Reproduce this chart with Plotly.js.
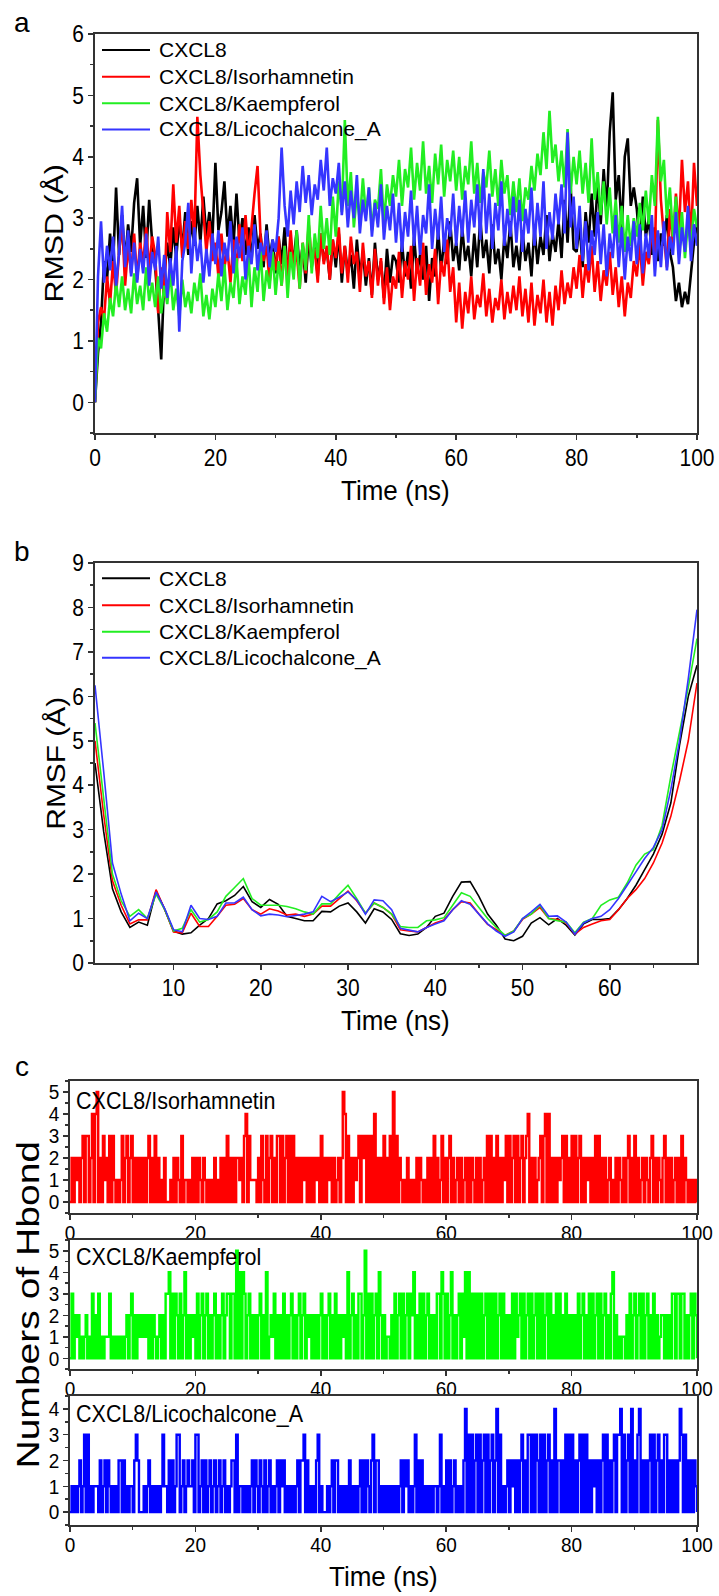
<!DOCTYPE html>
<html><head><meta charset="utf-8">
<script src="https://cdn.plot.ly/plotly-3.0.1.min.js"></script>
<style>html,body{margin:0;padding:0;background:#fff}#chart{width:719px;height:1596px}</style>
</head><body><div id="chart"></div>
<script>
// ---------------- DATA ----------------
const seriesNames = ['CXCL8', 'CXCL8/Isorhamnetin', 'CXCL8/Kaempferol', 'CXCL8/Licochalcone_A'];
const hbondNames = ['CXCL8/Isorhamnetin', 'CXCL8/Kaempferol', 'CXCL8/Licochalcone_A'];
const panelLabels = ['a', 'b', 'c'];
const xTitle = 'Time (ns)';
const rmsdTitle = 'RMSD (Å)';
const rmsfTitle = 'RMSF (Å)';
const hbondTitle = 'Numbers of Hbond';
const rmsfTicks = [10, 20, 30, 40, 50, 60];
const rmsfMinorTicks = [5, 15, 25, 35, 45, 55, 65];

// RMSD (Å), one value every 0.5 ns from 0 to 100 ns
const rmsdStep = 0.5;
const rmsdCXCL8 = [
  0.00,0.80,1.30,2.30,2.00,2.75,2.20,3.50,2.40,3.05,2.30,2.90,2.45,3.25,3.65,2.55,3.20,2.35,3.30,2.60,
  2.20,1.50,0.70,2.05,2.60,2.20,2.85,2.35,3.00,2.50,3.10,2.40,2.95,2.55,3.20,2.60,3.35,2.70,3.10,2.65,
  3.90,2.80,3.10,3.60,2.70,3.20,2.55,3.40,2.60,3.00,2.40,2.85,2.30,3.05,2.50,2.75,2.20,2.90,2.35,2.65,
  2.10,2.70,2.25,2.85,2.05,2.60,2.30,2.80,2.15,2.55,1.95,2.70,2.20,2.60,2.05,2.75,2.30,2.50,2.00,2.65,
  2.20,2.75,1.95,2.55,2.10,2.40,1.85,2.65,2.05,2.45,1.90,2.35,1.75,2.60,2.00,2.30,1.70,2.50,1.95,2.40,
  2.30,1.95,2.60,2.05,2.45,1.85,2.70,2.10,2.40,2.00,2.55,1.65,2.35,2.05,2.80,2.15,2.65,2.25,2.95,2.30,
  2.60,2.15,2.85,2.30,2.55,2.05,2.75,2.20,3.00,2.35,2.65,2.10,2.90,2.25,2.50,2.00,2.70,2.35,2.95,2.20,
  2.55,2.15,2.80,2.30,2.60,2.05,2.85,2.25,2.70,2.40,3.05,2.30,2.75,2.45,2.95,2.35,3.30,2.60,3.55,2.50,
  2.45,2.90,2.20,3.10,2.60,3.40,2.70,3.60,2.90,3.80,3.10,4.40,5.05,3.30,3.70,2.80,4.00,4.30,3.20,3.50,
  3.15,2.55,3.35,2.70,3.00,2.40,2.85,2.30,2.75,2.55,3.05,2.45,2.20,1.65,1.95,1.55,1.80,1.60,2.10,2.60,
  2.90
];
const rmsdIsorhamnetin = [
  0.00,1.30,1.55,1.35,2.05,1.60,2.30,1.75,2.45,2.95,1.90,2.55,2.10,2.75,2.00,2.60,2.25,2.85,2.15,2.70,
  2.40,1.45,2.20,1.70,3.10,2.45,3.55,2.60,3.20,2.35,2.95,2.50,3.30,2.70,4.65,3.70,3.10,2.45,2.95,2.30,
  2.60,2.05,2.75,2.20,2.50,1.95,2.65,2.15,2.90,2.30,3.05,2.40,2.85,3.40,3.85,2.70,2.30,2.55,1.95,2.45,
  2.15,2.70,1.90,2.55,2.05,2.80,2.20,2.45,1.85,2.60,2.10,2.90,2.30,2.50,1.95,2.75,2.25,2.55,2.00,2.65,
  2.35,2.85,2.10,2.55,1.95,2.70,2.25,2.45,1.80,2.60,2.05,2.30,1.70,2.50,1.90,2.35,1.60,2.20,1.50,2.05,
  1.85,2.45,1.70,2.30,2.00,2.55,1.65,2.35,1.90,2.60,1.75,2.25,1.95,2.50,1.60,2.30,2.05,2.65,1.80,2.20,
  1.30,1.95,1.20,1.80,1.45,2.05,1.35,1.75,1.55,2.10,1.40,1.85,1.30,1.70,1.50,2.00,1.35,1.80,1.45,1.90,
  1.50,2.05,1.40,1.85,1.30,1.95,1.25,1.75,1.45,2.00,1.30,1.80,1.25,1.90,1.50,2.15,1.60,1.95,1.70,2.20,
  1.85,2.40,1.70,2.25,1.95,2.55,1.80,2.30,1.65,2.15,1.90,2.45,1.75,2.20,1.55,2.05,1.40,1.95,1.70,2.30,
  2.05,2.60,1.90,2.45,2.25,2.85,2.40,4.60,3.30,2.70,2.20,3.15,2.55,3.40,2.75,3.95,3.10,3.60,2.60,3.90,
  3.20
];
const rmsdKaempferol = [
  0.00,1.05,0.88,1.45,1.15,1.70,1.40,1.95,1.55,2.05,1.50,1.85,1.45,2.10,1.60,1.90,1.50,2.20,1.65,1.95,
  1.55,2.05,1.45,1.90,1.60,2.15,1.50,1.85,1.40,2.00,1.55,1.80,1.45,1.95,1.65,2.10,1.40,1.75,1.35,1.85,
  1.55,2.10,1.65,2.25,1.50,1.95,1.70,2.35,1.60,2.05,1.75,2.40,1.55,2.20,1.80,2.50,1.65,2.15,1.85,2.45,
  1.75,2.30,1.90,2.55,1.70,2.45,2.00,2.80,1.85,2.60,2.15,3.05,2.10,2.75,2.35,3.20,2.50,3.00,2.40,3.35,
  2.70,3.60,3.10,4.60,3.20,3.75,2.85,3.40,2.95,3.65,3.05,3.50,2.80,3.30,3.15,3.80,2.90,3.55,3.20,3.70,
  3.35,3.95,3.20,3.80,3.50,4.15,3.30,3.90,3.45,4.25,3.40,3.85,3.25,4.05,3.55,4.20,3.35,3.95,3.60,4.10,
  3.45,4.00,3.30,3.85,3.55,4.25,3.40,3.90,3.25,3.75,3.50,4.10,3.35,3.80,3.20,3.95,3.40,3.70,3.05,3.60,
  3.10,3.65,2.95,3.50,3.30,3.85,3.45,4.05,3.70,4.40,3.80,4.75,3.90,4.20,3.60,4.10,3.50,4.45,3.40,4.00,
  3.55,4.10,3.40,3.90,3.25,4.30,3.30,3.75,3.05,3.60,2.90,3.50,2.75,3.30,2.60,3.20,2.45,3.05,2.55,3.00,
  2.70,3.25,2.80,3.45,2.90,3.70,3.20,4.65,3.60,3.95,3.00,3.50,2.70,3.35,2.55,3.10,2.35,2.95,2.50,3.15,
  2.85
];
const rmsdLicochalconeA = [
  0.00,2.05,2.95,1.95,2.55,2.15,2.70,1.90,2.45,3.20,2.20,2.80,2.05,2.60,1.95,2.50,2.10,2.75,1.90,2.45,
  2.15,2.70,1.85,2.40,1.70,2.35,1.90,2.55,1.15,2.30,2.60,3.25,2.10,2.85,2.30,2.65,1.95,2.50,2.05,2.75,
  2.25,2.80,2.05,2.60,2.30,2.95,2.10,2.70,2.35,2.85,2.00,2.55,2.25,2.90,2.15,2.60,2.40,2.80,2.20,2.65,
  2.45,3.00,4.15,3.20,2.70,3.45,2.90,3.60,3.10,3.85,3.25,3.70,3.05,3.55,3.30,3.95,3.45,4.15,3.20,3.65,
  3.40,3.90,3.05,3.60,2.85,3.45,3.00,3.70,2.75,3.30,2.95,3.50,2.70,3.25,2.85,3.55,2.65,3.20,2.80,3.40,
  2.60,3.25,2.45,3.10,2.70,3.45,2.55,3.20,2.40,3.05,2.75,3.55,2.50,3.15,2.65,3.35,2.45,3.00,2.70,3.40,
  2.55,3.20,2.70,3.45,2.60,3.30,2.85,3.55,2.65,3.80,2.75,3.40,2.50,3.25,2.80,3.60,2.55,3.15,2.70,3.35,
  2.60,3.30,2.45,3.15,2.75,3.50,2.55,3.25,2.70,3.60,2.50,3.10,2.65,3.40,2.90,3.55,2.75,4.40,2.85,3.35,
  2.50,3.20,2.30,2.95,2.15,2.80,2.40,3.10,2.25,2.90,2.05,2.75,2.35,3.05,2.20,2.85,2.00,2.70,2.30,2.95,
  2.25,2.90,2.10,2.75,2.35,3.05,2.05,2.80,2.20,2.95,2.15,2.70,2.40,3.10,2.25,2.85,2.45,3.20,2.30,2.90,
  2.55
];

// RMSF (Å), residues 1..70
const rmsfCXCL8 = [
  4.50,2.95,1.67,1.15,0.80,0.92,0.85,1.62,1.20,0.72,
  0.65,0.68,0.85,1.00,1.33,1.40,1.52,1.72,1.38,1.25,
  1.43,1.32,1.05,1.00,0.95,0.95,1.16,1.15,1.28,1.35,
  1.15,0.90,1.22,1.15,0.98,0.66,0.62,0.65,0.80,1.05,
  1.12,1.50,1.82,1.83,1.50,1.10,0.85,0.54,0.50,0.60,
  0.90,1.02,0.86,1.00,0.85,0.63,0.88,0.98,0.98,1.00,
  1.20,1.45,1.75,2.10,2.45,2.90,3.60,4.90,6.00,6.70
];
const rmsfIsorhamnetin = [
  5.00,3.33,1.85,1.30,0.88,0.97,0.97,1.65,1.20,0.70,
  0.68,1.12,0.82,0.82,1.05,1.30,1.32,1.45,1.20,1.10,
  1.22,1.17,1.08,1.10,1.05,1.10,1.28,1.28,1.45,1.62,
  1.40,1.12,1.35,1.25,1.10,0.75,0.72,0.70,0.80,0.90,
  0.97,1.20,1.38,1.35,1.10,0.87,0.75,0.62,0.72,0.98,
  1.10,1.25,1.00,0.98,0.90,0.65,0.80,0.88,0.95,0.98,
  1.20,1.45,1.65,1.90,2.25,2.70,3.30,4.10,5.00,6.30
];
const rmsfKaempferol = [
  5.40,3.70,2.00,1.40,1.05,1.20,1.00,1.55,1.20,0.72,
  0.78,1.20,0.92,0.98,1.15,1.50,1.70,1.90,1.45,1.30,
  1.30,1.30,1.27,1.22,1.15,1.10,1.33,1.33,1.55,1.75,
  1.45,1.12,1.35,1.25,1.10,0.82,0.80,0.80,0.95,0.97,
  1.02,1.30,1.58,1.50,1.25,1.00,0.80,0.62,0.72,1.00,
  1.10,1.30,1.00,0.95,0.92,0.68,0.92,1.00,1.30,1.42,
  1.48,1.80,2.20,2.45,2.55,3.10,4.20,5.20,6.20,7.30
];
const rmsfLicochalconeA = [
  6.25,4.30,2.25,1.55,0.95,1.12,1.00,1.60,1.22,0.75,
  0.70,1.30,1.00,0.98,1.05,1.35,1.35,1.48,1.20,1.06,
  1.10,1.08,1.04,1.07,1.10,1.15,1.50,1.38,1.48,1.60,
  1.42,1.10,1.42,1.40,1.20,0.78,0.74,0.70,0.80,0.88,
  0.95,1.20,1.40,1.32,1.10,0.88,0.72,0.60,0.70,1.00,
  1.15,1.32,1.05,1.06,0.92,0.65,0.90,1.00,1.05,1.20,
  1.45,1.75,2.05,2.35,2.60,3.00,3.90,5.00,6.40,7.95
];

// Hydrogen bond counts, one value every 0.25 ns from 0 to 100 ns
const hbondStep = 0.25;
const hbondIsorhamnetin = [
  0,2,0,2,1,2,0,2,3,0,3,3,0,2,4,0,4,5,0,2,0,3,1,2,0,3,0,3,1,0,1,0,1,3,0,2,3,0,2,3,
  0,2,0,2,0,2,0,2,0,2,3,0,2,0,3,0,2,0,1,0,2,0,0,0,1,0,2,0,2,1,0,3,0,1,1,0,1,0,2,0,
  2,0,2,1,0,2,1,0,1,0,1,0,2,0,1,0,2,0,2,0,3,0,2,0,2,0,2,2,1,2,0,3,4,0,3,1,1,1,1,0,
  2,0,3,1,0,3,0,2,3,0,2,0,3,3,0,3,0,2,3,0,3,0,3,0,2,0,2,0,2,1,2,0,2,0,2,0,2,1,2,0,
  3,0,2,0,2,1,2,0,2,0,1,2,0,2,5,4,0,3,0,2,0,2,1,2,3,0,3,2,3,0,3,0,3,0,4,0,2,0,2,0,
  3,0,2,0,3,0,5,0,3,0,2,1,0,1,0,2,0,1,0,1,0,2,0,2,1,0,1,0,2,0,2,0,3,0,2,0,1,3,0,2,
  0,2,3,0,2,0,1,2,0,2,0,1,2,0,2,0,2,1,0,2,0,2,0,1,2,0,3,0,3,0,2,0,3,0,2,0,2,1,3,0,
  3,0,2,3,0,3,0,2,3,0,2,3,4,0,2,0,2,0,1,2,3,0,3,4,0,4,0,2,0,2,0,2,1,2,3,0,3,0,2,0,
  3,0,3,0,2,3,0,2,0,2,1,2,0,2,0,3,0,3,0,2,0,2,0,1,2,0,1,0,2,0,2,1,0,2,0,2,3,0,2,0,
  3,0,2,0,1,2,0,2,1,0,2,3,0,2,0,2,1,0,2,3,0,2,0,2,0,1,2,0,2,0,3,0,2,1,0,1,0,1,0,1,
  0
];
const hbondKaempferol = [
  0,3,0,2,1,2,0,1,0,1,2,0,1,0,3,0,2,0,3,0,1,0,1,1,1,3,0,1,0,1,0,1,0,1,0,1,2,0,2,3,
  0,2,0,2,1,2,1,2,1,2,0,2,0,2,1,0,1,2,0,2,0,3,3,4,0,3,0,3,2,0,3,0,2,4,0,2,0,2,1,2,
  0,3,0,2,3,0,2,3,0,2,0,2,3,0,2,0,2,3,0,2,3,3,0,3,3,0,5,0,4,0,4,3,0,2,3,0,2,0,2,0,
  2,3,0,2,0,4,0,1,2,1,3,0,2,0,2,0,3,0,2,0,2,3,0,2,0,2,3,0,2,3,0,2,1,2,0,2,0,2,0,2,
  3,0,2,0,2,3,0,2,0,3,0,2,0,2,1,2,0,4,0,2,3,0,2,0,3,3,0,2,5,0,3,0,3,0,2,3,0,4,2,0,
  2,0,1,1,0,2,0,3,0,2,3,0,3,0,2,3,0,3,2,4,0,2,0,3,0,3,0,2,3,0,2,0,2,0,3,3,0,4,3,0,
  3,0,2,4,0,2,0,2,3,0,3,1,4,0,4,0,3,0,3,0,3,0,3,0,2,3,0,3,0,3,0,3,0,2,3,0,3,0,2,0,
  2,0,3,0,3,1,2,3,0,3,0,2,3,0,3,0,2,3,0,3,0,3,0,2,3,0,3,0,2,0,3,0,3,0,2,0,3,0,2,0,
  2,0,2,0,3,0,2,3,0,2,0,3,0,3,0,2,3,0,3,0,2,3,0,2,0,3,4,0,2,0,1,0,1,1,0,2,0,3,0,2,
  3,0,2,3,0,3,0,2,3,0,2,0,3,0,2,0,1,2,2,0,2,0,2,0,3,3,0,3,3,0,3,3,0,2,0,2,3,0,3,2,
  0
];
const hbondLicochalconeA = [
  0,1,0,1,0,1,2,0,1,3,0,3,0,1,0,1,1,1,0,2,0,1,2,0,2,1,0,1,0,1,0,2,2,0,2,0,1,0,1,1,
  0,2,3,2,0,0,0,1,0,1,2,0,1,0,1,0,1,0,1,3,1,1,0,2,0,2,0,1,3,3,0,1,2,0,1,2,1,1,2,0,
  3,3,0,1,2,0,2,0,1,2,0,1,2,0,1,2,0,1,2,0,1,0,1,2,2,0,3,0,1,1,0,1,0,1,0,1,2,0,2,1,
  0,2,1,0,2,0,1,2,0,1,0,1,2,0,2,1,2,0,1,0,1,0,1,0,1,2,0,2,2,3,0,2,0,1,0,1,0,2,3,0,
  1,0,0,0,1,0,1,2,0,2,2,0,1,0,1,0,1,0,2,0,1,0,1,0,1,2,0,2,0,2,1,0,2,3,0,2,2,0,1,0,
  1,0,1,0,1,0,1,0,1,0,1,2,0,2,1,2,0,1,0,1,3,0,2,0,2,0,1,0,1,0,1,0,1,1,0,1,3,0,1,0,
  2,0,2,0,1,2,0,1,0,1,0,2,4,0,3,0,3,0,2,3,0,3,0,2,3,0,3,0,2,3,0,2,4,0,3,0,1,0,1,2,
  0,2,1,2,0,2,0,2,3,0,2,0,3,3,0,3,0,3,2,0,3,0,3,0,2,3,0,2,0,4,0,2,2,0,2,0,3,0,3,0,
  3,0,2,0,2,3,0,3,0,3,0,2,0,2,1,2,0,2,0,2,3,0,3,0,2,0,2,3,0,3,3,4,0,3,0,2,3,0,4,0,
  2,0,3,4,0,2,0,2,0,2,3,0,3,0,2,3,0,2,0,3,3,0,2,0,2,0,2,0,2,4,3,0,3,0,2,0,2,0,2,1,
  0
];

// ---------------- STYLE ----------------
const W = 719, H = 1596;
const FONT = '"Liberation Sans", Arial, Helvetica, sans-serif';
const AX = '#333333';
const lineColors = ['#000000', '#ff0000', '#22ee22', '#3535ff'];
const hbColors = ['#ff0000', '#00ff00', '#0000ff'];
const px = v => v / W;
const py = v => 1 - v / H;

function axis(lo, hi, range, dtick, minor, anchor, fs, isX, extra) {
  const dom = isX ? [px(lo), px(hi)] : [py(hi), py(lo)];
  return Object.assign({
    domain: dom, range: range, anchor: anchor, tick0: 0, dtick: dtick,
    ticks: 'outside', ticklen: 5, tickwidth: 1.5, tickcolor: AX,
    showline: true, linecolor: AX, linewidth: 1.8, mirror: true,
    showgrid: false, zeroline: false, fixedrange: true,
    tickfont: {family: FONT, size: fs, color: '#000'},
    minor: {ticks: 'outside', dtick: minor, tick0: 0, ticklen: 3, tickwidth: 1.5, tickcolor: AX, showgrid: false}
  }, extra || {});
}

const times = (arr, step) => arr.map((_, i) => i * step);
const residues = arr => arr.map((_, i) => i + 1);

const rmsdSeries = [rmsdCXCL8, rmsdIsorhamnetin, rmsdKaempferol, rmsdLicochalconeA];
const rmsfSeries = [rmsfCXCL8, rmsfIsorhamnetin, rmsfKaempferol, rmsfLicochalconeA];
const hbondSeries = [hbondIsorhamnetin, hbondKaempferol, hbondLicochalconeA];

const traces = [];
rmsdSeries.forEach((s, i) => traces.push({
  x: times(s, rmsdStep), y: s, type: 'scatter', mode: 'lines', name: seriesNames[i],
  xaxis: 'x', yaxis: 'y', line: {color: lineColors[i], width: 2.6, simplify: false}, showlegend: false, hoverinfo: 'skip'
}));
rmsfSeries.forEach((s, i) => traces.push({
  x: residues(s), y: s, type: 'scatter', mode: 'lines', name: seriesNames[i],
  xaxis: 'x2', yaxis: 'y2', line: {color: lineColors[i], width: 1.6, simplify: false}, showlegend: false, hoverinfo: 'skip'
}));
hbondSeries.forEach((s, i) => traces.push({
  x: times(s, hbondStep), y: s, type: 'scatter', mode: 'lines', name: hbondNames[i],
  xaxis: 'x' + (i + 3), yaxis: 'y' + (i + 3), line: {color: hbColors[i], width: 2.4, shape: 'hv', simplify: false},
  showlegend: false, hoverinfo: 'skip'
}));

const cX = {ticklabelstandoff: -3};
const layout = {
  width: W, height: H, margin: {l: 0, r: 0, t: 0, b: 0},
  paper_bgcolor: '#ffffff', plot_bgcolor: 'rgba(0,0,0,0)', showlegend: false,
  font: {family: FONT, color: '#000'},
  xaxis: axis(95, 697, [0, 100], 20, 10, 'y', 21, true),
  yaxis: axis(34, 433, [-0.5, 6], 1, 0.5, 'x', 21, false),
  xaxis2: axis(95, 697, [1, 70], 10, 5, 'y2', 21, true, {}),
  yaxis2: axis(563, 963, [0, 9], 1, 0.5, 'x2', 21, false),
  xaxis3: axis(70, 697, [0, 100], 20, 10, 'y3', 19, true, cX),
  yaxis3: axis(1081, 1213, [-0.5, 5.5], 1, 0.5, 'x3', 19, false),
  xaxis4: axis(70, 697, [0, 100], 20, 10, 'y4', 19, true, cX),
  yaxis4: axis(1240, 1369, [-0.5, 5.5], 1, 0.5, 'x4', 19, false),
  xaxis5: axis(70, 697, [0, 100], 20, 10, 'y5', 19, true, cX),
  yaxis5: axis(1396, 1525, [-0.5, 4.5], 1, 0.5, 'x5', 19, false),
  shapes: [], annotations: []
};
// panel b: labelled ticks only at 10..60
Object.assign(layout.xaxis2, {tickmode: 'array', tickvals: rmsfTicks, ticktext: rmsfTicks.map(String)});
layout.xaxis2.minor = Object.assign({}, layout.xaxis2.minor, {tickmode: 'array', tickvals: rmsfMinorTicks});
delete layout.xaxis2.minor.dtick;

const stretchList = []; // [annotation index, sx, sy]
function ann(text, x, y, size, opts, sx, sy) {
  stretchList.push([layout.annotations.length, sx || 1, sy || 1]);
  layout.annotations.push(Object.assign({
    text: text, x: px(x), y: py(y), xref: 'paper', yref: 'paper',
    xanchor: 'center', yanchor: 'middle', showarrow: false,
    font: {family: FONT, size: size, color: '#000'}
  }, opts || {}));
}

// panel letters
ann(panelLabels[0], 22, 22, 28);
ann(panelLabels[1], 22, 551, 28);
ann(panelLabels[2], 22, 1066, 28);
// axis titles
ann(rmsdTitle, 55, 233.5, 26, {textangle: -90}, 1.17, 1);
ann(xTitle, 395, 490, 26, {}, 1, 1.08);
ann(rmsfTitle, 56, 763, 26, {textangle: -90}, 1.15, 1);
ann(xTitle, 395, 1020, 26, {}, 1, 1.08);
ann(hbondTitle, 28, 1305, 32, {textangle: -90}, 1.22, 1);
ann(xTitle, 383.5, 1577, 26, {}, 1, 1.05);
// hbond panel names
[1101, 1257, 1414].forEach((y, i) => ann(hbondNames[i], 74, y, 21.5, {xanchor: 'left'}, 1, 1.1));

// manual legends for panels a and b
function legend(rows) {
  rows.forEach((y, i) => {
    layout.shapes.push({type: 'line', xref: 'paper', yref: 'paper', x0: px(102), x1: px(150), y0: py(y), y1: py(y),
      line: {color: lineColors[i], width: 2}});
    ann(seriesNames[i], 157, y, 21, {xanchor: 'left'});
  });
}
legend([50, 76.7, 103.3, 129.5]);
legend([578.3, 605.3, 631.7, 657.7]);

function stretch(el, sx, sy) {
  if (sx === 1 && sy === 1) return;
  const b = el.getBBox();
  const cx = b.x + b.width / 2, cy = b.y + b.height / 2;
  const t = el.getAttribute('transform') || '';
  el.setAttribute('transform', t + ' translate(' + cx + ',' + cy + ') scale(' + sx + ',' + sy + ') translate(' + (-cx) + ',' + (-cy) + ')');
}

Plotly.newPlot('chart', traces, layout, {staticPlot: true, displayModeBar: false}).then(gd => {
  const tickStretch = {x: 1.12, y: 1.12, x2: 1.12, y2: 1.12, x3: 1.1, y3: 1.1, x4: 1.1, y4: 1.1, x5: 1.1, y5: 1.1};
  Object.keys(tickStretch).forEach(id => {
    gd.querySelectorAll('g.' + id + 'tick text').forEach(el => stretch(el, 1, tickStretch[id]));
  });
  const anns = gd.querySelectorAll('g.annotation');
  stretchList.forEach(([idx, sx, sy]) => {
    const g = anns[idx];
    if (!g) return;
    const txt = g.querySelector('text');
    if (txt) stretch(txt, sx, sy);
  });
});
</script>
</body></html>
